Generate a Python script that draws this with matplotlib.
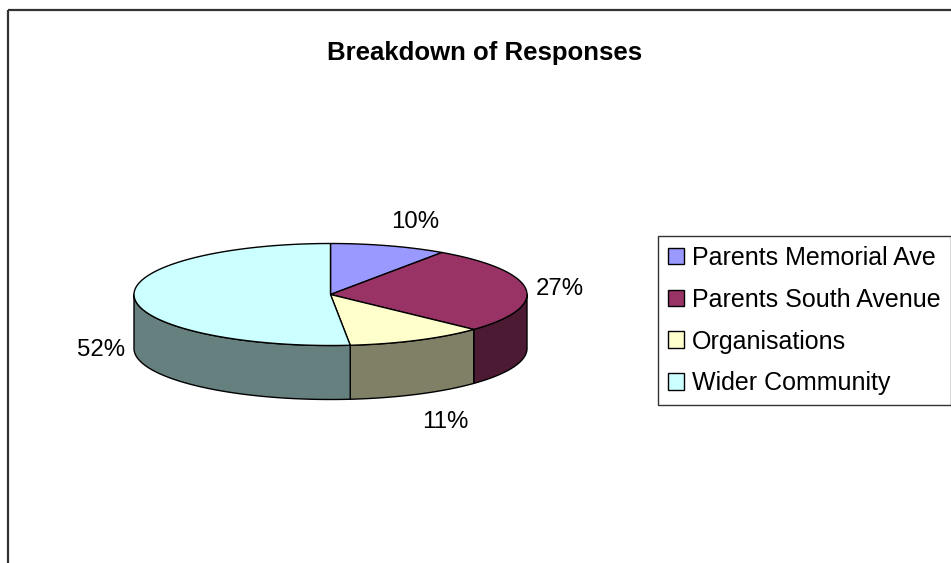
import numpy as np
import matplotlib.pyplot as plt
from matplotlib.patches import Polygon, Rectangle, Patch

plt.rcParams['font.family'] = ['Liberation Sans', 'DejaVu Sans']

categories = ['Parents Memorial Ave', 'Parents South Avenue', 'Organisations', 'Wider Community']
shares = [9.6, 27.4, 11.4, 51.6]
top_colors = ['#9999FF', '#993366', '#FFFFCC', '#CCFFFF']
title = 'Breakdown of Responses'

W, H = 951, 563
fig = plt.figure(figsize=(W / 100, H / 100), dpi=100)
ax = fig.add_axes([0, 0, 1, 1])
ax.set_xlim(0, W)
ax.set_ylim(H, 0)
ax.axis('off')

# chart area frame (runs off the right and bottom edge)
ax.add_patch(Rectangle((7.5, 9.5), W, H, fill=False, edgecolor='#333333', lw=1.6))

# 3d pie geometry, in pixels
cx, cy, a, b, depth = 330.5, 294.5, 196.5, 51, 54


def ell(t, dy=0.0):
    r = np.radians(t)
    return cx + a * np.sin(r), cy - b * np.cos(r) + dy


frac = np.array(shares, dtype=float) / sum(shares)
bounds = np.concatenate([[0], np.cumsum(frac) * 360])

# side walls (front half only)
for i, col in enumerate(top_colors):
    s0, s1 = max(bounds[i], 90), min(bounds[i + 1], 270)
    if s1 <= s0:
        continue
    ts = np.linspace(s0, s1, 120)
    xs, ys = ell(ts)
    pts = np.r_[np.c_[xs, ys], np.c_[xs[::-1], ys[::-1] + depth]]
    rgb = np.array(plt.matplotlib.colors.to_rgb(col)) * 0.5
    ax.add_patch(Polygon(pts, closed=True, facecolor=rgb, edgecolor='black',
                         lw=1, joinstyle='round', zorder=2))

# top wedges
for i, col in enumerate(top_colors):
    ts = np.linspace(bounds[i], bounds[i + 1], 200)
    xs, ys = ell(ts)
    pts = np.r_[[[cx, cy]], np.c_[xs, ys]]
    ax.add_patch(Polygon(pts, closed=True, facecolor=col, edgecolor='black',
                         lw=1, joinstyle='round', zorder=3))

# percentage labels, placed just outside the rim
hw, hh, g = 23.5, 12, 10
for i, f in enumerate(frac):
    t = (bounds[i] + bounds[i + 1]) / 2
    s, c = np.sin(np.radians(t)), np.cos(np.radians(t))
    drop = np.clip(0.5 - c * 8, 0, 1) * depth
    lx = cx + (a + g) * s + hw * np.sign(s)
    ly = cy - b * c + drop - 16 * c - hh * c
    ax.text(lx, ly, f'{f * 100:.0f}%', ha='center', va='center_baseline',
            fontsize=17.3, zorder=4)

ax.text(485, 60, title, ha='center', va='baseline', fontsize=18.5, fontweight='bold')

handles = [Patch(facecolor=c, edgecolor='black', lw=1) for c in top_colors]
leg = fig.legend(handles, categories, loc='upper left',
                 bbox_to_anchor=(658 / W, 1 - 236 / H), bbox_transform=fig.transFigure,
                 fontsize=18, frameon=True, fancybox=False, edgecolor='black',
                 borderpad=0.4, labelspacing=0.71, handlelength=0.64,
                 handleheight=0.64, handletextpad=0.32, borderaxespad=0)
leg.get_frame().set_linewidth(1)

fig.savefig('out.png', dpi=100)
